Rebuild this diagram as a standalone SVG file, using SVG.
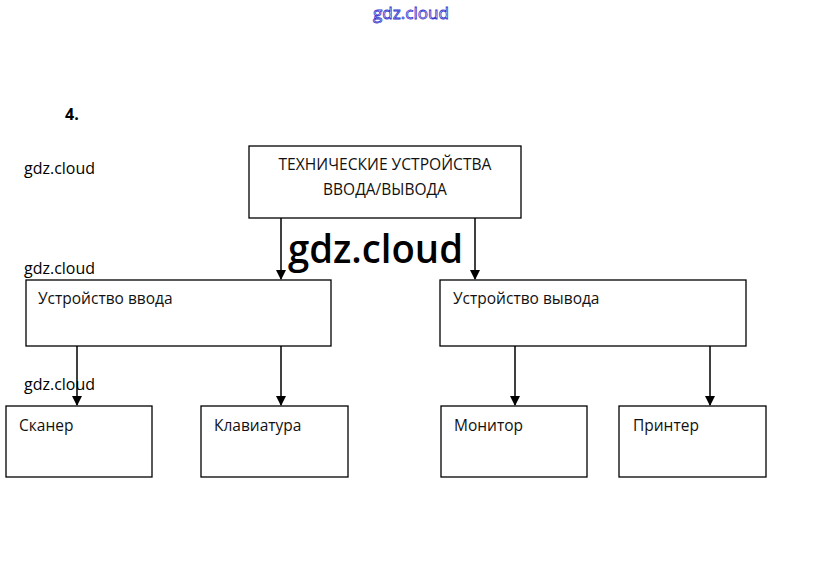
<svg xmlns="http://www.w3.org/2000/svg" width="823" height="580" viewBox="0 0 823 580">
<style>
.box{fill:#fff;stroke:#000;stroke-width:1.3}
.t{font-family:"Open Sans","Liberation Sans",sans-serif;font-size:15.5px;fill:#111}
.wm{font-family:"Open Sans","Liberation Sans",sans-serif;font-size:16px;fill:#000}
.ln{stroke:#000;stroke-width:1.5;fill:none}
</style>
<defs>
<marker id="ah" markerWidth="10" markerHeight="10" refX="9" refY="5" orient="auto" markerUnits="userSpaceOnUse">
<path d="M0,0 L10,5 L0,10 Z" fill="#000"/>
</marker>
</defs>
<rect width="823" height="580" fill="#fff"/>
<text x="411" y="19" text-anchor="middle" font-family="Open Sans, Liberation Sans, sans-serif" font-size="17" fill="#fff" stroke="#3333cc" stroke-width="0.8" textLength="76" lengthAdjust="spacingAndGlyphs">gdz.cloud</text>
<text x="65" y="120" font-family="Open Sans, Liberation Sans, sans-serif" font-size="16" font-weight="bold" fill="#000">4.</text>
<text class="wm" x="24" y="174" textLength="71" lengthAdjust="spacingAndGlyphs">gdz.cloud</text>
<text class="wm" x="24" y="274" textLength="71" lengthAdjust="spacingAndGlyphs">gdz.cloud</text>
<text class="wm" x="24" y="390" textLength="71" lengthAdjust="spacingAndGlyphs">gdz.cloud</text>
<g id="top">
<rect class="box" x="249" y="146" width="272" height="72"/>
<text class="t" x="385" y="170" text-anchor="middle" textLength="213" lengthAdjust="spacingAndGlyphs">ТЕХНИЧЕСКИЕ УСТРОЙСТВА</text>
<text class="t" x="385" y="195" text-anchor="middle">ВВОДА/ВЫВОДА</text>
</g>
<g id="input">
<rect class="box" x="26" y="280" width="305" height="66"/>
<text class="t" x="38" y="304">Устройство ввода</text>
</g>
<g id="output">
<rect class="box" x="440" y="280" width="306" height="66"/>
<text class="t" x="453" y="304">Устройство вывода</text>
</g>
<g id="scanner">
<rect class="box" x="6" y="406" width="146" height="71"/>
<text class="t" x="19" y="431">Сканер</text>
</g>
<g id="keyboard">
<rect class="box" x="201" y="406" width="147" height="71"/>
<text class="t" x="214" y="431">Клавиатура</text>
</g>
<g id="monitor">
<rect class="box" x="441" y="406" width="146" height="71"/>
<text class="t" x="454" y="431">Монитор</text>
</g>
<g id="printer">
<rect class="box" x="619" y="406" width="147" height="71"/>
<text class="t" x="633" y="431">Принтер</text>
</g>
<g id="connectors">
<line class="ln" x1="281" y1="218" x2="281" y2="279" marker-end="url(#ah)"/>
<line class="ln" x1="475" y1="218" x2="475" y2="279" marker-end="url(#ah)"/>
<line class="ln" x1="77" y1="346" x2="77" y2="405" marker-end="url(#ah)"/>
<line class="ln" x1="281" y1="346" x2="281" y2="405" marker-end="url(#ah)"/>
<line class="ln" x1="515" y1="346" x2="515" y2="405" marker-end="url(#ah)"/>
<line class="ln" x1="710" y1="346" x2="710" y2="405" marker-end="url(#ah)"/>
</g>
<text x="288" y="263" font-family="Open Sans, Liberation Sans, sans-serif" font-size="40" font-weight="600" fill="#000" textLength="175" lengthAdjust="spacingAndGlyphs">gdz.cloud</text>
</svg>
